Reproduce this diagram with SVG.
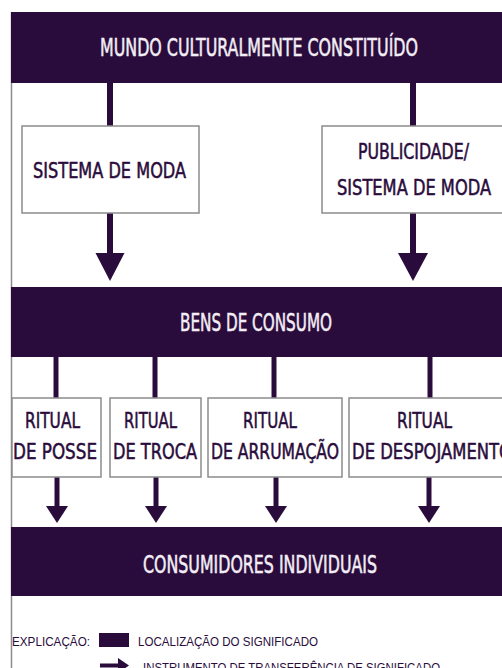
<svg xmlns="http://www.w3.org/2000/svg" width="502" height="668" viewBox="0 0 502 668">
<style>
.band{fill:#2a0c3c}
.box{fill:#fff;stroke:#8c8c8c;stroke-width:1.5}
.bt{font-family:"DejaVu Sans Condensed","DejaVu Sans",sans-serif;font-size:24px;fill:#f3eef5;stroke:#f3eef5;stroke-width:0.5;text-anchor:middle}
.nt{font-family:"DejaVu Sans Condensed","DejaVu Sans",sans-serif;font-size:21px;fill:#2a0c3c;stroke:#2a0c3c;stroke-width:0.5;text-anchor:middle}
.lt{font-family:"Liberation Sans","DejaVu Sans",sans-serif;font-size:13px;fill:#2a0c3c}
.ln{stroke:#2a0c3c;stroke-width:6}
.ln2{stroke:#2a0c3c;stroke-width:5}
.ah{fill:#2a0c3c}
</style>
<rect width="502" height="668" fill="#fff"/>
<line x1="11.5" y1="12" x2="11.5" y2="668" stroke="#8c8c8c" stroke-width="1.5"/>

<g id="connectors">
  <line class="ln" x1="110" y1="83" x2="110" y2="126"/>
  <line class="ln" x1="413" y1="83" x2="413" y2="126"/>
  <line class="ln" x1="110" y1="213" x2="110" y2="255"/>
  <polygon class="ah" points="95.5,253 124.5,253 110,281"/>
  <line class="ln" x1="413" y1="213" x2="413" y2="255"/>
  <polygon class="ah" points="398,253 428,253 413,281"/>
  <line class="ln2" x1="56" y1="357" x2="56" y2="398"/>
  <line class="ln2" x1="155" y1="357" x2="155" y2="398"/>
  <line class="ln2" x1="274" y1="357" x2="274" y2="398"/>
  <line class="ln2" x1="430" y1="357" x2="430" y2="398"/>
  <line class="ln2" x1="57" y1="477" x2="57" y2="508"/>
  <polygon class="ah" points="46,506 68,506 57,523"/>
  <line class="ln2" x1="156" y1="477" x2="156" y2="508"/>
  <polygon class="ah" points="145,506 167,506 156,523"/>
  <line class="ln2" x1="276" y1="477" x2="276" y2="508"/>
  <polygon class="ah" points="265,506 287,506 276,523"/>
  <line class="ln2" x1="429" y1="477" x2="429" y2="508"/>
  <polygon class="ah" points="418,506 440,506 429,523"/>
</g>

<g id="mundo">
  <rect class="band" x="11" y="12" width="491" height="71"/>
  <text class="bt" x="259" y="55.5" textLength="318" lengthAdjust="spacingAndGlyphs">MUNDO CULTURALMENTE CONSTITUÍDO</text>
</g>
<g id="sistema-moda">
  <rect class="box" x="22" y="126" width="177" height="87"/>
  <text class="nt" x="109.5" y="177.5" textLength="153" lengthAdjust="spacingAndGlyphs">SISTEMA DE MODA</text>
</g>
<g id="publicidade">
  <rect class="box" x="322" y="126" width="190" height="87"/>
  <text class="nt" x="413.5" y="158.5" textLength="111" lengthAdjust="spacingAndGlyphs">PUBLICIDADE/</text>
  <text class="nt" x="414" y="195" textLength="154" lengthAdjust="spacingAndGlyphs">SISTEMA DE MODA</text>
</g>
<g id="bens">
  <rect class="band" x="11" y="287" width="491" height="70"/>
  <text class="bt" x="256" y="330.5" textLength="152" lengthAdjust="spacingAndGlyphs">BENS DE CONSUMO</text>
</g>
<g id="ritual-posse">
  <rect class="box" x="12" y="398" width="89" height="79"/>
  <text class="nt" x="52.5" y="427.5" textLength="55" lengthAdjust="spacingAndGlyphs">RITUAL</text>
  <text class="nt" x="55" y="458.5" textLength="84" lengthAdjust="spacingAndGlyphs">DE POSSE</text>
</g>
<g id="ritual-troca">
  <rect class="box" x="110" y="398" width="91" height="79"/>
  <text class="nt" x="150.5" y="427.5" textLength="53" lengthAdjust="spacingAndGlyphs">RITUAL</text>
  <text class="nt" x="155" y="458.5" textLength="84" lengthAdjust="spacingAndGlyphs">DE TROCA</text>
</g>
<g id="ritual-arrumacao">
  <rect class="box" x="208" y="398" width="134" height="79"/>
  <text class="nt" x="270" y="427.5" textLength="54" lengthAdjust="spacingAndGlyphs">RITUAL</text>
  <text class="nt" x="275" y="458.5" textLength="128" lengthAdjust="spacingAndGlyphs">DE ARRUMAÇÃO</text>
</g>
<g id="ritual-despojamento">
  <rect class="box" x="349" y="398" width="165" height="79"/>
  <text class="nt" x="424.5" y="427.5" textLength="55" lengthAdjust="spacingAndGlyphs">RITUAL</text>
  <text class="nt" x="352" y="458.5" style="text-anchor:start" textLength="160" lengthAdjust="spacingAndGlyphs">DE DESPOJAMENTO</text>
</g>
<g id="consumidores">
  <rect class="band" x="11" y="527" width="491" height="69"/>
  <text class="bt" x="260" y="572.5" textLength="234" lengthAdjust="spacingAndGlyphs">CONSUMIDORES INDIVIDUAIS</text>
</g>
<g id="legenda">
  <text class="lt" x="12" y="646" textLength="78" lengthAdjust="spacingAndGlyphs">EXPLICAÇÃO:</text>
  <rect class="band" x="99" y="633" width="30" height="14"/>
  <text class="lt" x="138" y="646" textLength="180" lengthAdjust="spacingAndGlyphs">LOCALIZAÇÃO DO SIGNIFICADO</text>
  <line x1="100" y1="665.5" x2="120" y2="665.5" stroke="#2a0c3c" stroke-width="4"/>
  <polygon class="ah" points="118,658 129,665.5 118,673"/>
  <text class="lt" x="143" y="672" textLength="297" lengthAdjust="spacingAndGlyphs">INSTRUMENTO DE TRANSFERÊNCIA DE SIGNIFICADO</text>
</g>
</svg>
